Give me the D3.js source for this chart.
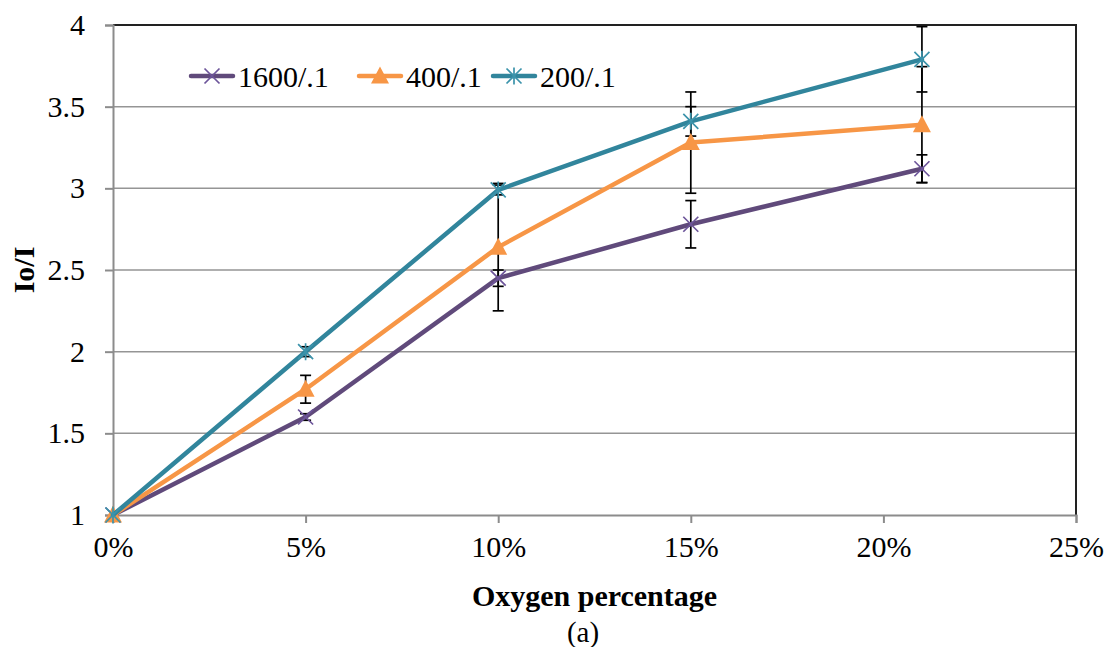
<!DOCTYPE html>
<html>
<head>
<meta charset="utf-8">
<script src="https://cdn.jsdelivr.net/npm/d3@7/dist/d3.min.js"></script>
<style>
  body { margin: 0; background: #fff; }
  svg, svg text { font-family: "Times New Roman", "Liberation Serif", "DejaVu Serif", serif; }
  .tick text { font-size: 30px; fill: #000; }
</style>
</head>
<body>
<div id="chart"></div>
<script>
// oxygen percentage (x) and Io/I per series
var oxygen = [0, 5, 10, 15, 21];
var seriesNames = ["1600/.1", "400/.1", "200/.1"];
var io1600 = [1, 1.60, 2.45, 2.78, 3.12];
var io400 = [1, 1.77, 2.64, 3.28, 3.39];
var io200 = [1, 2.00, 2.99, 3.41, 3.79];
// +/- error per point
var err1600 = [0, 0.02, 0.05, 0.145, 0.085];
var err400 = [0, 0.085, 0.39, 0.31, 0.355];
var err200 = [0, 0.03, 0.03, 0.09, 0.2];
var xTicks = [0, 5, 10, 15, 20, 25];
var yTicks = [1, 1.5, 2, 2.5, 3, 3.5, 4];

var W = 1107, H = 647;
var margin = {top: 25, right: 31, bottom: 132, left: 113};
var width = W - margin.left - margin.right,
    height = H - margin.top - margin.bottom;
var serif = '"Times New Roman", "Liberation Serif", "DejaVu Serif", serif';

var svg = d3.select("#chart").append("svg")
    .attr("width", W)
    .attr("height", H);

var g = svg.append("g")
    .attr("transform", "translate(" + margin.left + "," + margin.top + ")");

var x = d3.scaleLinear().domain([0, 25]).range([0, width]);
var y = d3.scaleLinear().domain([1, 4]).range([height, 0]);

var colors = ["#604a7b", "#f79646", "#31859c"];
var markerColors = ["#6d559a", "#f79646", "#3b93ab"];

// gridlines
g.append("g")
    .selectAll("line")
    .data(yTicks.slice(1))
    .enter().append("line")
    .attr("x1", 0).attr("x2", width)
    .attr("y1", function(d) { return y(d); })
    .attr("y2", function(d) { return y(d); })
    .attr("stroke", "#959595")
    .attr("stroke-width", 1.5);

// plot frame (top / right)
g.append("path")
    .attr("d", "M0," + y(4) + "H" + x(25) + "V" + y(1))
    .attr("fill", "none")
    .attr("stroke", "#222")
    .attr("stroke-width", 2);

// axes
var xAxis = d3.axisBottom(x).tickValues(xTicks)
    .tickFormat(function(d) { return d + "%"; })
    .tickSize(8).tickPadding(13);
var yAxis = d3.axisLeft(y).tickValues(yTicks)
    .tickFormat(d3.format("")).tickSize(8).tickPadding(20);

var gx = g.append("g")
    .attr("transform", "translate(0," + height + ")")
    .call(xAxis);
var gy = g.append("g").call(yAxis);

[gx, gy].forEach(function(a) {
    a.attr("font-family", serif);
    a.select(".domain").attr("stroke", "#8c8c8c").attr("stroke-width", 2);
    a.selectAll(".tick line").attr("stroke", "#8c8c8c").attr("stroke-width", 2);
    a.selectAll(".tick text").style("font-family", serif);
});
gx.selectAll(".tick text").attr("dy", "0.71em");

var series = seriesNames.map(function(name, i) {
    var vals = [io1600, io400, io200][i];
    var errs = [err1600, err400, err200][i];
    return {
        name: name,
        color: colors[i],
        mcolor: markerColors[i],
        marker: ["x", "tri", "star"][i],
        values: oxygen.map(function(o, j) { return {x: o, y: vals[j], e: errs[j]}; })
    };
});

// error bars
var eb = g.append("g").attr("class", "errorbars");
series.forEach(function(s) {
    s.values.filter(function(d) { return d.e > 0; }).forEach(function(d) {
        var cx = x(d.x), top = y(d.y + d.e), bot = y(d.y - d.e);
        eb.append("line").attr("x1", cx).attr("x2", cx).attr("y1", top).attr("y2", bot);
        eb.append("line").attr("x1", cx - 5.5).attr("x2", cx + 5.5).attr("y1", top).attr("y2", top);
        eb.append("line").attr("x1", cx - 5.5).attr("x2", cx + 5.5).attr("y1", bot).attr("y2", bot);
    });
});
eb.selectAll("line").attr("stroke", "#000").attr("stroke-width", 1.7);

var line = d3.line()
    .x(function(d) { return x(d.x); })
    .y(function(d) { return y(d.y); });

function drawMarker(sel, type, color) {
    if (type == "tri") {
        sel.append("path")
            .attr("d", "M0,-9.5L9,7.5L-9,7.5Z")
            .attr("fill", color);
    } else {
        var r = 7.5;
        var p = "M" + (-r) + "," + (-r) + "L" + r + "," + r + "M" + (-r) + "," + r + "L" + r + "," + (-r);
        if (type == "star") p += "M0," + (-r - 1) + "V" + (r + 1);
        sel.append("path")
            .attr("d", p)
            .attr("fill", "none")
            .attr("stroke", color)
            .attr("stroke-width", 1.7);
    }
}

series.forEach(function(s) {
    g.append("path")
        .datum(s.values)
        .attr("fill", "none")
        .attr("stroke", s.color)
        .attr("stroke-width", 4.5)
        .attr("stroke-linejoin", "round")
        .attr("stroke-linecap", "round")
        .attr("d", line);
    s.values.forEach(function(d) {
        var m = g.append("g").attr("transform", "translate(" + x(d.x) + "," + y(d.y) + ")");
        drawMarker(m, s.marker, s.mcolor);
    });
});

// legend
var legendX = [191, 359, 493];
series.forEach(function(s, i) {
    var lg = svg.append("g").attr("transform", "translate(" + legendX[i] + ",76)");
    lg.append("line")
        .attr("x1", 0).attr("x2", 42)
        .attr("stroke", s.color)
        .attr("stroke-width", 4.5)
        .attr("stroke-linecap", "round");
    var m = lg.append("g").attr("transform", "translate(21,0)");
    drawMarker(m, s.marker, s.mcolor);
    lg.append("text")
        .attr("x", 47).attr("y", 11)
        .style("font-family", serif)
        .style("font-size", "30px")
        .text(s.name);
});

// axis titles
svg.append("text")
    .attr("x", margin.left + width / 2).attr("y", 606)
    .attr("text-anchor", "middle")
    .style("font-family", serif)
    .style("font-size", "30px").style("font-weight", "bold")
    .text("Oxygen percentage");

svg.append("text")
    .attr("x", 583).attr("y", 642)
    .attr("text-anchor", "middle")
    .style("font-family", serif)
    .style("font-size", "29px")
    .text("(a)");

svg.append("text")
    .attr("transform", "translate(34," + (margin.top + height / 2) + ") rotate(-90)")
    .attr("text-anchor", "middle")
    .style("font-family", serif)
    .style("font-size", "30px").style("font-weight", "bold")
    .text("Io/I");
</script>
</body>
</html>
